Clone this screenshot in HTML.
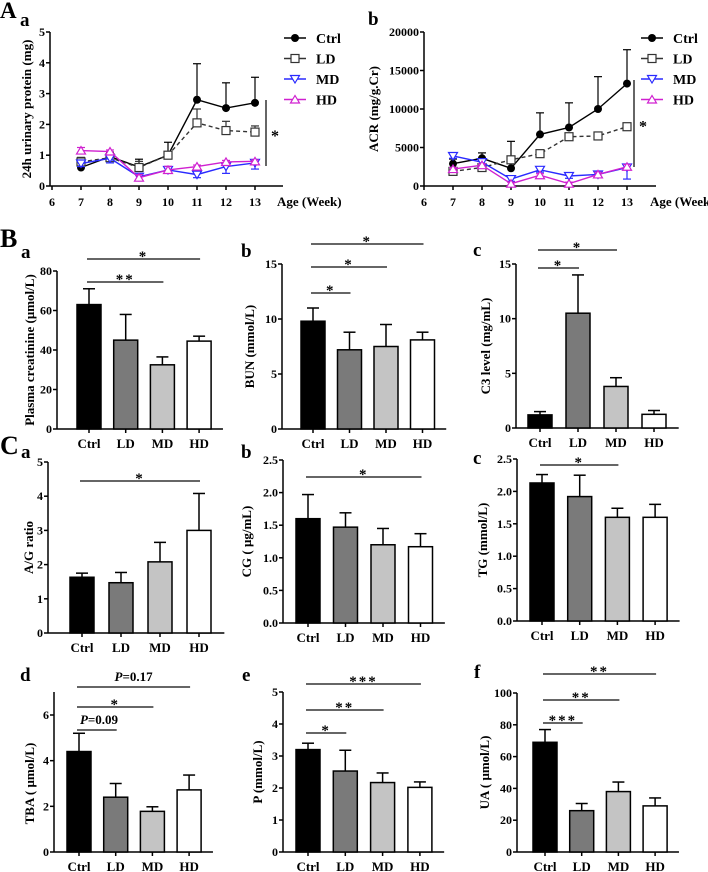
<!DOCTYPE html>
<html><head><meta charset="utf-8"><style>
html,body{margin:0;padding:0;background:#fff;}
svg{display:block;font-family:"Liberation Serif",serif;font-weight:bold;}
</style></head><body>
<svg id="fig" width="708" height="872" viewBox="0 0 708 872" xmlns="http://www.w3.org/2000/svg"></svg>
<script>
// ---------- data ----------
const weeks = [7,8,9,10,11,12,13];
const weekTicks = [6,7,8,9,10,11,12,13];
const groups = ["Ctrl","LD","MD","HD"];
// A a: 24h urinary protein
const upCtrl = [0.6,0.95,0.62,1.0,2.8,2.53,2.7];
const upCtrlErr = [0.1,0.15,0.25,0.42,1.17,0.82,0.83];
const upLD = [0.78,0.92,0.6,1.0,2.05,1.8,1.75];
const upLDErr = [0.15,0.1,0.2,0.1,0.45,0.3,0.2];
const upMD = [0.73,0.9,0.3,0.52,0.37,0.63,0.75];
const upMDErr = [0.1,0.15,0.1,0.1,0.1,0.22,0.2];
const upHD = [1.15,1.12,0.27,0.52,0.63,0.78,0.8];
const upHDErr = [0.1,0.05,0.1,0.12,0.05,0.05,0.05];
const upTicks = [0,1,2,3,4,5];
// A b: ACR
const acrCtrl = [2900,3600,2300,6700,7600,10000,13300];
const acrCtrlErr = [600,700,3500,2800,3200,4200,4400];
const acrLD = [1900,2400,3400,4200,6400,6500,7700];
const acrLDErr = [300,400,400,300,300,300,300];
const acrMD = [3900,3100,900,2100,1300,1500,2400];
const acrMDErr = [300,500,300,300,300,300,1500];
const acrHD = [2200,2700,300,1400,300,1500,2500];
const acrHDErr = [200,200,200,200,200,300,300];
const acrTicks = [0,5000,10000,15000,20000];
// bar panels
const creat = [63,45,32.5,44.5], creatErr = [8,13,4,2.5], creatTicks=[0,20,40,60,80];
const bun = [9.8,7.2,7.5,8.1], bunErr = [1.2,1.6,2,0.7], bunTicks=[0,5,10,15];
const c3 = [1.2,10.5,3.8,1.25], c3Err = [0.3,3.5,0.8,0.35], c3Ticks=[0,5,10,15];
const ag = [1.63,1.47,2.08,3.0], agErr = [0.12,0.3,0.57,1.08], agTicks=[0,1,2,3,4,5];
const cg = [1.6,1.47,1.2,1.17], cgErr = [0.37,0.22,0.25,0.2], cgTicks=[0,0.5,1,1.5,2,2.5];
const tg = [2.13,1.92,1.6,1.6], tgErr = [0.13,0.33,0.14,0.2], tgTicks=[0,0.5,1,1.5,2,2.5];
const tba = [4.4,2.4,1.78,2.72], tbaErr = [0.8,0.6,0.2,0.65], tbaTicks=[0,2,4,6];
const pp = [3.2,2.53,2.17,2.02], ppErr = [0.2,0.65,0.3,0.17], ppTicks=[0,1,2,3,4,5];
const ua = [69,26,38,29], uaErr = [8,4.5,6,5], uaTicks=[0,20,40,60,80,100];

// ---------- helpers ----------
const NS="http://www.w3.org/2000/svg";
const svg=document.getElementById('fig');
function el(tag,attrs,parent,txt){const e=document.createElementNS(NS,tag);for(const k in attrs)e.setAttribute(k,attrs[k]);if(txt!==undefined)e.textContent=txt;(parent||svg).appendChild(e);return e;}
function fmt(v,dec){return dec?v.toFixed(1):String(v);}
function letter(x,y,t,size){const e=el('text',{x:x,y:y,'font-size':size,fill:'#000'},svg,t);

}

function yAxis(g,ax,yTop,yBot,ymax,ticks,dec,label,labX,extraTop){
  const sy=v=>yBot-(v/ymax)*(yBot-yTop);
  el('line',{x1:ax,y1:extraTop!==undefined?extraTop:yTop,x2:ax,y2:yBot,stroke:'#000','stroke-width':1.5},g);
  ticks.forEach(t=>{const y=sy(t);
    el('line',{x1:ax-4,y1:y,x2:ax,y2:y,stroke:'#000','stroke-width':1.5},g);
    const tx=el('text',{x:ax-5,y:y+4,'font-size':12,'text-anchor':'end'},g,fmt(t,dec));
    
    });
  const yl=el('text',{x:labX,y:(yTop+yBot)/2,'font-size':13,'text-anchor':'middle',transform:`rotate(-90 ${labX} ${(yTop+yBot)/2})`},g,label);
  
  
  return sy;
}

function barPanel(o){
  const g=el('g',{},svg);
  
  
  const sy=yAxis(g,o.ax,o.yTop,o.yBot,o.ymax,o.ticks,o.dec,o.label,o.labX,o.axTop);
  const sx=i=>o.c0+i*o.step;
  el('line',{x1:o.ax,y1:o.yBot,x2:sx(3)+o.step*0.65,y2:o.yBot,stroke:'#000','stroke-width':1.5},g);
  const fills=['#000','#7a7a7a','#c4c4c4','#fff'];
  o.vals.forEach((v,i)=>{
    const x=sx(i), w=24, y=sy(v), ye=sy(v+o.err[i]);
    el('line',{x1:x,y1:ye,x2:x,y2:y,stroke:'#000','stroke-width':1.5},g);
    el('line',{x1:x-6,y1:ye,x2:x+6,y2:ye,stroke:'#000','stroke-width':1.5},g);
    const b=el('rect',{x:x-w/2,y:y,width:w,height:o.yBot-y,fill:fills[i],stroke:'#000','stroke-width':1.5},g);
    
    
    el('line',{x1:x,y1:o.yBot,x2:x,y2:o.yBot+4,stroke:'#000','stroke-width':1.5},g);
    const t=el('text',{x:x,y:o.yBot+19,'font-size':13,'text-anchor':'middle'},g,groups[i]);
    
    
  });
  (o.sig||[]).forEach(s=>{
    const x1=sx(0)-2, x2=sx(s[0])+1;
    el('line',{x1:x1,y1:s[1],x2:x2,y2:s[1],stroke:'#333','stroke-width':1.5},g);
    let t;
    if(s[2].startsWith('P=')){
      t=el('text',{x:s[3]!==undefined?s[3]:(x1+x2)/2,y:s[1]-6,'font-size':13,'text-anchor':'middle'},g);
      el('tspan',{'font-style':'italic'},t,'P');
      el('tspan',{},t,s[2].slice(1));
    } else t=el('text',{x:(x1+x2)/2,y:s[1]+2,'font-size':15,'text-anchor':'middle','letter-spacing':2},g,s[2]);
    
    
  });
}

function linePanel(o){
  const g=el('g',{},svg);
  
  
  const sy=yAxis(g,o.ax,o.yTop,o.yBot,o.ymax,o.ticks,false,o.label,o.labX);
  const sx=w=>o.x6+(w-6)*o.step;
  el('line',{x1:o.ax,y1:o.yBot,x2:o.axEnd,y2:o.yBot,stroke:'#000','stroke-width':1.5},g);
  weekTicks.forEach(w=>{const x=sx(w);
    el('line',{x1:x,y1:o.yBot,x2:x,y2:o.yBot+4,stroke:'#000','stroke-width':1.5},g);
    const t=el('text',{x:x,y:o.yBot+20,'font-size':12,'text-anchor':'middle'},g,String(w));
    
    });
  const at=el('text',{x:o.axEnd-6,y:o.yBot+20,'font-size':13},g,'Age (Week)');
  
  
  const cols=['#000','#333','#2a2aff','#d020d0'];
  const dash=[null,'4,3',null,null];
  o.series.forEach((s,k)=>{
    const sg=el('g',{},g);
    
    
    s.v.forEach((v,i)=>{const x=sx(weeks[i]),y=sy(v),ye=sy(k===2?v-s.e[i]:v+s.e[i]);
      el('line',{x1:x,y1:y,x2:x,y2:ye,stroke:cols[k],'stroke-width':1.2},sg);
      el('line',{x1:x-4,y1:ye,x2:x+4,y2:ye,stroke:cols[k],'stroke-width':1.2},sg);});
    const pts=s.v.map((v,i)=>sx(weeks[i])+','+sy(v)).join(' ');
    const pl=el('polyline',{points:pts,fill:'none',stroke:cols[k],'stroke-width':1.4},sg);
    if(dash[k])pl.setAttribute('stroke-dasharray',dash[k]);
    s.v.forEach((v,i)=>marker(sg,k,sx(weeks[i]),sy(v)));
  });
  groups.forEach((n,k)=>{const y=o.legY+k*20.5;
    el('line',{x1:o.legX-11,y1:y,x2:o.legX+11,y2:y,stroke:cols[k],'stroke-width':1.4},g);
    marker(g,k,o.legX,y);
    const t=el('text',{x:o.legX+21,y:y+5,'font-size':14},g,n);
    
    });
  el('line',{x1:o.sigX,y1:o.sigY1,x2:o.sigX,y2:o.sigY2,stroke:'#000','stroke-width':1.2},g);
  el('text',{x:o.sigX+9,y:(o.sigY1+o.sigY2)/2+8,'font-size':16,'text-anchor':'middle'},g,'*');
}
function marker(g,k,x,y){
  if(k===0)el('circle',{cx:x,cy:y,r:4,fill:'#000'},g);
  else if(k===1)el('rect',{x:x-4,y:y-4,width:8,height:8,fill:'#fff',stroke:'#333','stroke-width':1.2},g);
  else if(k===2)el('polygon',{points:`${x-4.5},${y-3.5} ${x+4.5},${y-3.5} ${x},${y+4}`,fill:'#fff',stroke:'#2a2aff','stroke-width':1.2},g);
  else el('polygon',{points:`${x-4.5},${y+3.5} ${x+4.5},${y+3.5} ${x},${y-4}`,fill:'#fff',stroke:'#d020d0','stroke-width':1.2},g);
}

// ---------- panel letters ----------
letter(0,18,'A',23); letter(20,26,'a',19); letter(368,25,'b',19);
letter(0,247,'B',26); letter(21,258,'a',19); letter(241,257,'b',19); letter(473,256,'c',19);
letter(0,454,'C',26); letter(21,458,'a',19); letter(241,458,'b',19); letter(473,464,'c',19);
letter(20,681,'d',19); letter(242,681,'e',19); letter(474,678,'f',19);

// ---------- line charts ----------
linePanel({name:'chart-urinary-protein',ax:50,yTop:32,yBot:186,ymax:5,ticks:upTicks,label:'24h urinary protein (mg)',labX:31,
  x6:52,step:29,axEnd:283,legX:295,legY:38,sigX:266,sigY1:100,sigY2:166,
  series:[{v:upCtrl,e:upCtrlErr},{v:upLD,e:upLDErr},{v:upMD,e:upMDErr},{v:upHD,e:upHDErr}]});
linePanel({name:'chart-acr',ax:424,yTop:32,yBot:186,ymax:20000,ticks:acrTicks,label:'ACR (mg/g.Cr)',labX:378,
  x6:424,step:29,axEnd:656,legX:652,legY:38,sigX:634,sigY1:80,sigY2:167,
  series:[{v:acrCtrl,e:acrCtrlErr},{v:acrLD,e:acrLDErr},{v:acrMD,e:acrMDErr},{v:acrHD,e:acrHDErr}]});

// ---------- bar charts ----------
barPanel({name:'chart-plasma-creatinine',ax:57,yTop:271,yBot:429,ymax:80,ticks:creatTicks,vals:creat,err:creatErr,label:'Plasma creatinine (μmol/L)',labX:34,c0:89,step:36.7,
  sig:[[3,259,'*'],[2,282,'**']]});
barPanel({name:'chart-bun',ax:282,yTop:264,yBot:429,ymax:15,ticks:bunTicks,vals:bun,err:bunErr,label:'BUN (mmol/L)',labX:254,c0:313,step:36.5,
  sig:[[3,244,'*'],[2,267,'*'],[1,293,'*']]});
barPanel({name:'chart-c3',ax:516,yTop:264,yBot:428,ymax:15,ticks:c3Ticks,vals:c3,err:c3Err,label:'C3 level (mg/mL)',labX:490,c0:540,step:38,
  sig:[[2,250,'*'],[1,268,'*']]});
barPanel({name:'chart-ag-ratio',ax:48,yTop:462,yBot:633,ymax:5,ticks:agTicks,vals:ag,err:agErr,label:'A/G ratio',labX:33,c0:82,step:39,
  sig:[[3,481,'*']]});
barPanel({name:'chart-cg',ax:283,yTop:460,yBot:623,ymax:2.5,ticks:cgTicks,dec:true,vals:cg,err:cgErr,label:'CG ( μg/mL)',labX:251,c0:308,step:37.5,
  sig:[[3,477,'*']]});
barPanel({name:'chart-tg',ax:517,yTop:459,yBot:621,ymax:2.5,ticks:tgTicks,dec:true,vals:tg,err:tgErr,label:'TG (mmol/L)',labX:487,c0:542,step:37.7,
  sig:[[2,465,'*']]});
barPanel({name:'chart-tba',ax:54,yTop:715,yBot:852,ymax:6,ticks:tbaTicks,vals:tba,err:tbaErr,label:'TBA ( μmol/L)',labX:34,c0:79,step:36.7,axTop:692,
  sig:[[3,687,'P=0.17'],[2,707,'*'],[1,730,'P=0.09',99]]});
barPanel({name:'chart-phosphorus',ax:283,yTop:692,yBot:852,ymax:5,ticks:ppTicks,vals:pp,err:ppErr,label:'P (mmol/L)',labX:262,c0:308,step:37.3,
  sig:[[3,684,'***'],[2,710,'**'],[1,733,'*']]});
barPanel({name:'chart-uric-acid',ax:517,yTop:693,yBot:852,ymax:100,ticks:uaTicks,vals:ua,err:uaErr,label:'UA ( μmol/L)',labX:489,c0:545,step:36.7,
  sig:[[3,674,'**'],[2,700,'**'],[1,723,'***']]});
</script>
</body></html>
